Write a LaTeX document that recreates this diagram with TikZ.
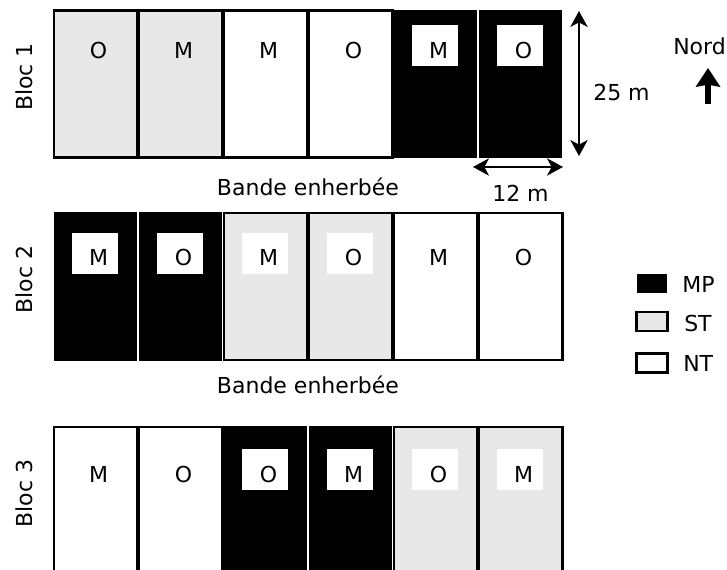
\documentclass[tikz,border=0pt]{standalone}
\usepackage{fontspec}
\setmainfont{DejaVu Sans}
\usetikzlibrary{arrows.meta}
\definecolor{stgrey}{HTML}{E8E8E8}

\begin{document}
\begin{tikzpicture}[x=.75pt, y=-.75pt,
  every node/.style={font=\fontsize{16.5}{20}\selectfont},
  plotbox/.style={rectangle, minimum width=62.6pt, minimum height=110.25pt, inner sep=0pt},
  MP/.style={fill=black, minimum width=61.8pt, minimum height=111.5pt},
  ST/.style={fill=stgrey, draw=black, line width=1.9pt},
  NT/.style={fill=white, draw=black, line width=1.9pt},
  labbox/.style={minimum width=34.5pt, minimum height=30.75pt, inner sep=0pt},
  txt/.style={inner sep=0pt, anchor=base west},
  legbox/.style={rectangle, minimum width=23pt, minimum height=14pt, inner sep=0pt},
  dim/.style={line width=1.4pt, {Stealth[length=12pt, width=13pt, inset=3.5pt]}-{Stealth[length=12pt, width=13pt, inset=3.5pt]}},
  north/.style={line width=5pt, -{Stealth[length=14pt, width=18pt, inset=1.5pt]}}]
\useasboundingbox (0,0) rectangle (727,570);
\foreach \b/\t/\o/\l in {1/10.5/35/{ST/O/none,ST/M/none,NT/M/none,NT/O/none,MP/M/white,MP/O/white},
  2/213/40/{MP/M/white,MP/O/white,ST/M/white,ST/O/white,NT/M/none,NT/O/none},
  3/427/42.5/{NT/M/none,NT/O/none,MP/O/white,MP/M/white,ST/O/white,ST/M/white}} {
  \node[rotate=90] (bloc\b) at (24,\t+66.5) {Bloc \b};
  \foreach \tr/\lt/\bc [count=\k] in \l {
    \node[plotbox, \tr] (p\b\k) at (85*\k+10.5,\t+73.5) {};
    \node[labbox, fill=\bc] (lb\b\k) at (85*\k+9.5,\t+\o) {};
    \node (lt\b\k) at (85*\k+13.5,\t+\o+4.5) {\lt};
  }
}
\node[anchor=base] (band1) at (308,196) {Bande enherbée};
\node[anchor=base] (band2) at (308,393.5) {Bande enherbée};
\coordinate (h1) at (579,11);
\coordinate (h2) at (579,156);
\coordinate (w1) at (473,167);
\coordinate (w2) at (563,167);
\draw[dim] (h1) -- (h2);
\draw[dim] (w1) -- (w2);
\node[txt] (long) at (593,101) {25 m};
\node[txt] (larg) at (492,201) {12 m};
\node[txt] (nord) at (673,55) {Nord};
\coordinate (n1) at (708,104);
\coordinate (n2) at (708,68);
\draw[north] (n1) -- (n2);
\node[legbox, fill=black] (kMP) at (652,283.5) {};
\node[legbox, fill=stgrey, draw=black, line width=1.9pt] (kST) at (652,321.5) {};
\node[legbox, fill=white, draw=black, line width=1.9pt] (kNT) at (652,363) {};
\node[txt] (tMP) at (682,292) {MP};
\node[txt] (tST) at (684,331) {ST};
\node[txt] (tNT) at (683,371) {NT};
\end{tikzpicture}
\end{document}
